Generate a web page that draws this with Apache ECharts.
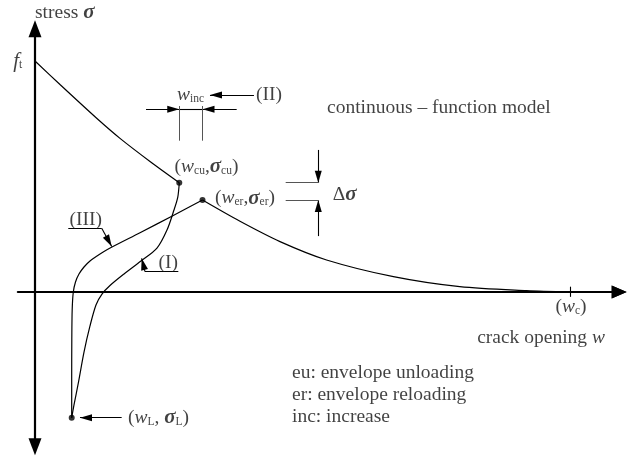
<!DOCTYPE html>
<html>
<head>
<meta charset="utf-8">
<script src="https://cdn.jsdelivr.net/npm/echarts@6/dist/echarts.min.js"></script>
<style>
  html, body { margin: 0; padding: 0; background: #fff; overflow: hidden; }
  #chart { width: 627px; height: 456px; }
</style>
</head>
<body>
<div id="chart"></div>
<script>
// Cohesive crack law, continuous-function model.
// x: crack opening w / w_c, y: stress sigma / f_t

// softening envelope from f_t down to the unloading point
const envelopeHead = [[0, 1.0], [0.0467, 0.898], [0.1153, 0.752], [0.1589, 0.665], [0.2150, 0.565], [0.2697, 0.473]];
// softening envelope from the reloading point down to w_c
const envelopeTail = [[0.3131, 0.398], [0.3832, 0.306], [0.458, 0.218], [0.545, 0.1385], [0.670, 0.0662], [0.794, 0.0229], [0.919, 0.0056], [1.0, 0]];
// unloading branch (I): (w_cu, sigma_cu) -> (w_L, sigma_L)
const unloadingBranch = [[0.2697, 0.473], [0.2669, 0.411], [0.2598, 0.355], [0.2467, 0.268], [0.2280, 0.190], [0.1981, 0.134],
  [0.1664, 0.078], [0.1402, 0.028], [0.1252, -0.009], [0.1140, -0.056], [0.1028, -0.147], [0.0916, -0.260],
  [0.0813, -0.390], [0.0729, -0.489], [0.0686, -0.544]];
// reloading branch (III): (w_L, sigma_L) -> (w_er, sigma_er)
const reloadingBranch = [[0.0686, -0.544], [0.0686, -0.381], [0.0688, -0.208], [0.0695, -0.0779], [0.0716, 0],
  [0.0757, 0.0433], [0.0822, 0.0779], [0.0916, 0.1082], [0.1028, 0.1342], [0.1159, 0.1558], [0.1290, 0.1753],
  [0.1439, 0.1948], [0.1963, 0.2567], [0.2585, 0.3312], [0.3131, 0.398]];
// characteristic points
const pointCU = [0.2697, 0.473];
const pointER = [0.3131, 0.398];
const pointL = [0.0686, -0.544];
const wCritical = 1.0;
// tip of the crack-opening axis
const wAxisTip = [1.106, 0];

const FONT = 'Liberation Serif';
const INK = '#111';

// annotation arrows [from, to]; the head sits on "to"
const arrowSegments = [
  [[0.2075, 0.791], [pointCU[0], 0.791]],          // w_inc, left head
  [[0.377, 0.791], [pointER[0], 0.791]],           // w_inc, right head
  [[0.4093, 0.853], [0.3271, 0.853]],              // (II)
  [[0.5295, 0.615], [0.5295, pointCU[1]]],         // delta sigma, upper head
  [[0.5295, 0.242], [0.5295, pointER[1]]],         // delta sigma, lower head
  [[0.1247, 0.2758], [0.1434, 0.197]],             // (III) leader
  [[0.2056, 0.0879], [0.1994, 0.1459]],            // (I) leader
  [[0.162, pointL[1]], [0.0841, pointL[1]]]        // (w_L, sigma_L)
];
// plain black segments
const plainSegments = [
  [[pointCU[0], 0.791], [pointER[0], 0.791]],
  [[0.0622, 0.2758], [0.1247, 0.2758]],
  [[0.2056, 0.0879], [0.2679, 0.0879]],
  [[wCritical, 0.023], [wCritical, -0.021]]
];
// grey extension lines
const extensionSegments = [
  [[pointCU[0], 0.805], [pointCU[0], 0.655]],
  [[pointER[0], 0.805], [pointER[0], 0.655]],
  [[0.4686, pointCU[1]], [0.5308, pointCU[1]]],
  [[0.4686, pointER[1]], [0.5308, pointER[1]]]
];

// text annotations
const notes = [
  { at: [-0.024, 1.0], text: '{fi|f}{sub|t}', align: 'right' },
  { at: [0.0, 1.209], text: 'stress {g|σ}', align: 'left' },
  { at: [0.5458, 0.795], text: 'continuous – function model', align: 'left' },
  { at: [0.2907, 0.853], text: '{i|w}{sub|inc}', align: 'center' },
  { at: [0.413, 0.853], text: '(II)', align: 'left' },
  { at: [0.3206, 0.542], text: '({i|w}{sub|cu},{g|σ}{sub|cu})', align: 'center' },
  { at: [0.3364, 0.4056], text: '({i|w}{sub|er},{g|σ}{sub|er})', align: 'left' },
  { at: [0.5564, 0.42], text: '{d|Δ}{g|σ}', align: 'left' },
  { at: [0.095, 0.3117], text: '(III)', align: 'center' },
  { at: [0.2492, 0.1242], text: '(I)', align: 'center' },
  { at: [0.1738, -0.5455], text: '({i|w}{sub|L}, {g|σ}{sub|L})', align: 'left' },
  { at: [1.0019, -0.065], text: '({i|w}{sub|c})', align: 'center' },
  { at: [1.0654, -0.199], text: 'crack opening {i|w}', align: 'right' },
  { at: [0.4804, -0.352], text: 'eu: envelope unloading', align: 'left' },
  { at: [0.4804, -0.446], text: 'er: envelope reloading', align: 'left' },
  { at: [0.4804, -0.540], text: 'inc: increase', align: 'left' }
];

const pair = (seg, head) => [
  { coord: seg[0], symbol: 'none' },
  head ? { coord: seg[1], symbol: 'triangle', symbolSize: [7, 12], symbolOffset: [0, 6] }
       : { coord: seg[1], symbol: 'none' }
];

const curve = (name, data) => ({
  name, type: 'line', data, smooth: 0.3, showSymbol: false, symbol: 'none',
  lineStyle: { color: '#000', width: 1.2 }, silent: true, z: 3
});

const chart = echarts.init(document.getElementById('chart'), null, { renderer: 'canvas' });

chart.setOption({
  animation: false,
  backgroundColor: '#fff',
  grid: { left: 17.88, top: 28.66, width: 601.3, height: 418.1, outerBoundsMode: 'none', containLabel: false },
  xAxis: {
    type: 'value', min: -0.032, max: 1.092,
    axisLine: { show: true, onZero: true, symbol: ['none', 'triangle'], symbolSize: [13, 15], lineStyle: { color: '#000', width: 2.2 } },
    axisTick: { show: false }, axisLabel: { show: false }, splitLine: { show: false }
  },
  yAxis: {
    type: 'value', min: -0.67, max: 1.14,
    axisLine: { show: true, onZero: true, symbol: ['triangle', 'triangle'], symbolSize: [13, 17], lineStyle: { color: '#000', width: 2.2 } },
    axisTick: { show: false }, axisLabel: { show: false }, splitLine: { show: false }
  },
  series: [
    curve('envelope-head', envelopeHead),
    curve('envelope-tail', envelopeTail),
    curve('unloading', unloadingBranch),
    curve('reloading', reloadingBranch),
    {
      name: 'points', type: 'scatter', data: [pointCU, pointER, pointL],
      symbol: 'circle', symbolSize: 6, itemStyle: { color: '#000' }, silent: true, z: 5
    },
    {
      // filled head at the end of the w axis, placed through the axis scales
      name: 'w-axis-head', type: 'custom', clip: false, silent: true, z: 6,
      data: [wAxisTip],
      renderItem: (params, api) => {
        const tip = api.coord([api.value(0), api.value(1)]);
        return {
          type: 'polygon',
          shape: { points: [tip, [tip[0] - 15, tip[1] - 6.5], [tip[0] - 15, tip[1] + 6.5]] },
          style: { fill: '#000', stroke: null }
        };
      }
    },
    {
      name: 'arrows', type: 'line', data: [], silent: true, clip: false,
      markLine: {
        silent: true, animation: false, symbol: ['none', 'none'],
        label: { show: false }, emphasis: { disabled: true },
        lineStyle: { color: '#000', width: 1.1, type: 'solid' },
        data: arrowSegments.map(s => pair(s, true)).concat(plainSegments.map(s => pair(s, false)))
      }
    },
    {
      name: 'extension', type: 'line', data: [], silent: true,
      markLine: {
        silent: true, animation: false, symbol: ['none', 'none'],
        label: { show: false }, emphasis: { disabled: true },
        lineStyle: { color: '#555', width: 1, type: 'solid' },
        data: extensionSegments.map(s => pair(s, false))
      }
    },
    {
      name: 'notes', type: 'scatter', symbolSize: 0, silent: true, clip: false, z: 6,
      data: notes.map(n => ({
        value: n.at,
        label: { formatter: n.text, align: n.align }
      })),
      label: {
        show: true, position: [0, 0], verticalAlign: 'middle',
        fontFamily: FONT, fontSize: 19.5, color: INK, lineHeight: 20,
        rich: {
          i: { fontFamily: FONT, fontSize: 19.5, fontStyle: 'italic', color: INK, lineHeight: 20 },
          fi: { fontFamily: FONT, fontSize: 21, fontStyle: 'italic', color: INK, lineHeight: 20 },
          g: { fontFamily: FONT, fontSize: 21, fontStyle: 'italic', fontWeight: 'bold', color: INK, lineHeight: 20 },
          d: { fontFamily: FONT, fontSize: 19.5, color: INK, lineHeight: 20 },
          sub: { fontFamily: FONT, fontSize: 11.5, color: INK, lineHeight: 6, verticalAlign: 'bottom' }
        }
      }
    }
  ]
});
</script>
</body>
</html>
